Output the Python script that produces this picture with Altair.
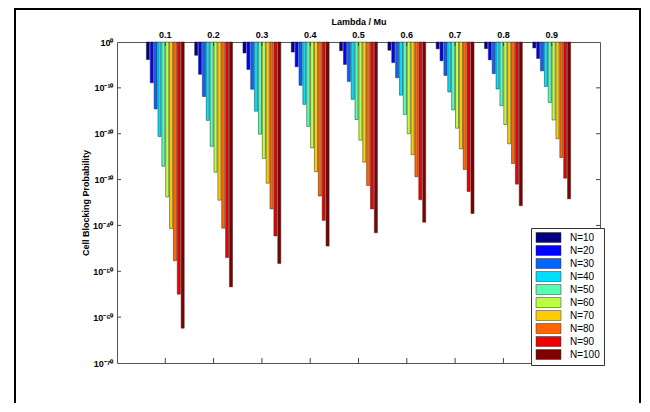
import altair as alt
import pandas as pd

# ---- data (log10 of the blocking probability) ----
lambdas = ["0.1", "0.2", "0.3", "0.4", "0.5", "0.6", "0.7", "0.8", "0.9"]
n_labels = ["N=10", "N=20", "N=30", "N=40", "N=50", "N=60", "N=70", "N=80", "N=90", "N=100"]
colors = ["#000080", "#0000ff", "#0066ff", "#00ddff", "#55ffb0",
          "#bbff44", "#ffcc00", "#ff6600", "#ee0000", "#800000"]

exp_n10 = [-3.85, -2.9, -2.4, -2.2, -1.9, -1.8, -1.5, -1.45, -1.3]
exp_n20 = [-8.9, -7.05, -6.0, -5.4, -4.9, -4.5, -4.1, -3.9, -3.6]
exp_n30 = [-14.6, -11.9, -10.3, -9.45, -8.6, -7.8, -7.3, -6.9, -6.3]
exp_n40 = [-20.6, -17.1, -15.1, -13.6, -12.5, -11.6, -10.9, -10.25, -9.7]
exp_n50 = [-27.1, -22.75, -20.1, -18.4, -16.9, -15.8, -14.8, -13.9, -13.2]
exp_n60 = [-33.8, -28.4, -25.4, -23.1, -21.4, -20.0, -18.8, -18.0, -17.0]
exp_n70 = [-40.7, -34.5, -30.8, -28.3, -26.2, -24.6, -23.3, -22.2, -21.1]
exp_n80 = [-47.7, -40.6, -36.4, -33.6, -31.3, -29.4, -27.8, -26.5, -25.2]
exp_n90 = [-55.0, -47.0, -42.3, -38.9, -36.4, -34.4, -32.6, -31.0, -29.7]
exp_n100 = [-62.4, -53.4, -48.3, -44.5, -41.6, -39.3, -37.4, -35.7, -34.2]
series = [exp_n10, exp_n20, exp_n30, exp_n40, exp_n50,
          exp_n60, exp_n70, exp_n80, exp_n90, exp_n100]

y_exponents = [0, -10, -20, -30, -40, -50, -60, -70]

rows = []
for name, exps in zip(n_labels, series):
    for lam, e in zip(lambdas, exps):
        rows.append({"lam": lam, "N": name, "p": 10.0 ** e, "top": 1.0})
df = pd.DataFrame(rows)

yticks = [10.0 ** k for k in y_exponents]
inner_ticks = pd.DataFrame({"p": yticks[1:-1]})
lam_df = pd.DataFrame({"lam": lambdas})

sup = str.maketrans("0123456789-", "⁰¹²³⁴⁵⁶⁷⁸⁹⁻")
expr = "''"
for k in reversed(y_exponents):
    expr = f"round(log(datum.value)/LN10) == {k} ? '10{str(k).translate(sup)}' : " + expr

W, H = 483, 321
FONT = "Liberation Sans"

bars = alt.Chart(df).mark_bar(stroke="#2a2a2a", strokeWidth=0.5).encode(
    x=alt.X("lam:N",
            scale=alt.Scale(domain=lambdas, paddingInner=0.2, paddingOuter=0.6),
            axis=alt.Axis(orient="top", title="Lambda / Mu", labelAngle=0,
                          ticks=False, tickSize=0, domain=False, labelPadding=3,
                          titlePadding=4, labelFontSize=9, labelFontWeight="bold",
                          titleFontSize=9, titleFontWeight="bold",
                          labelFont=FONT, titleFont=FONT, labelColor="black",
                          titleColor="black")),
    xOffset=alt.XOffset("N:N", scale=alt.Scale(domain=n_labels, paddingInner=0.2,
                                                paddingOuter=0.1)),
    y=alt.Y("p:Q",
            scale=alt.Scale(type="log", domain=[1e-70, 1], nice=False),
            axis=alt.Axis(values=yticks, labelExpr=expr, title="Cell Blocking Probability",
                          ticks=False, tickSize=0, domain=False, grid=False,
                          labelPadding=4, titlePadding=2, labelFontSize=9,
                          labelFontWeight="bold", titleFontSize=9, titleFontWeight="bold",
                          labelFont=FONT, titleFont=FONT, labelColor="black",
                          titleColor="black")),
    y2="top:Q",
    color=alt.Color("N:N", scale=alt.Scale(domain=n_labels, range=colors),
                    legend=alt.Legend(title=None, orient="none", legendX=414, legendY=186,
                                      symbolType="M-2.5,-1H2.5V1H-2.5Z", symbolSize=100,
                                      symbolStrokeColor="#333", symbolStrokeWidth=0.5,
                                      labelFont=FONT, labelFontSize=10, labelColor="black",
                                      strokeColor="#333", fillColor="white", padding=4,
                                      rowPadding=0, labelOffset=16, symbolOffset=8)),
)

tick_style = dict(color="#444", strokeWidth=1)
top_ticks = alt.Chart(lam_df).mark_rule(**tick_style).encode(
    x="lam:N", y=alt.value(0), y2=alt.value(4))
bottom_ticks = alt.Chart(lam_df).mark_rule(**tick_style).encode(
    x="lam:N", y=alt.value(H - 5), y2=alt.value(H))
left_ticks = alt.Chart(inner_ticks).mark_rule(**tick_style).encode(
    y="p:Q", x=alt.value(0), x2=alt.value(4))
right_ticks = alt.Chart(inner_ticks).mark_rule(**tick_style).encode(
    y="p:Q", x=alt.value(W - 4), x2=alt.value(W))

frame = alt.Chart(pd.DataFrame({"a": [0]})).mark_rect(
    fill="transparent", stroke="black", strokeWidth=2, clip=False).encode(
    x=alt.value(-102), x2=alt.value(523), y=alt.value(-33), y2=alt.value(400))

chart = alt.layer(bars, top_ticks, bottom_ticks, left_ticks, right_ticks, frame).properties(
    width=W, height=H,
    autosize=alt.AutoSizeParams(type="none"),
    padding={"left": 109, "top": 34, "right": 42, "bottom": 40},
    background="white",
).configure_view(stroke="#555", strokeWidth=1)

chart.save("out.html", embed_options={"renderer": "svg", "actions": False})
